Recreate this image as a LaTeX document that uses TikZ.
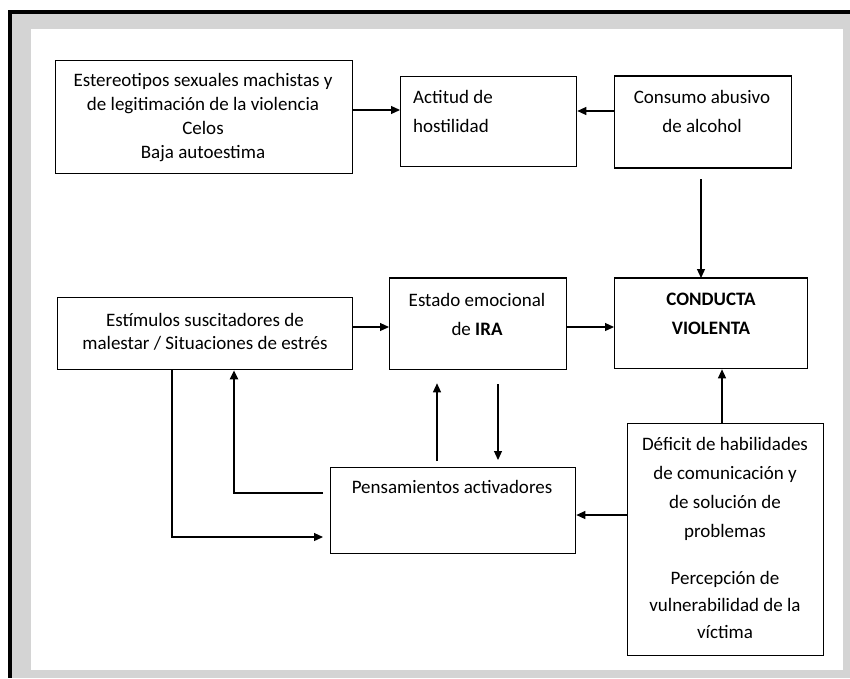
\documentclass[tikz,border=0pt]{standalone}
\usepackage{fontspec}
\setmainfont{Carlito}
\usetikzlibrary{arrows.meta}
\definecolor{framegray}{HTML}{D4D4D4}
\begin{document}
\begin{tikzpicture}[x=1pt,y=-1pt,
  box/.style={draw, line width=1.3pt, anchor=north west, inner sep=0pt},
  txt/.style={inner sep=0pt, anchor=base, font=\fontsize{19}{23}\selectfont},
  ltxt/.style={inner sep=0pt, anchor=base west, font=\fontsize{19}{23}\selectfont},
  arr/.style={line width=1.2pt, -{Triangle[length=9pt,width=8pt]}},
  thickedge/.style={line width=2.3pt}]
\useasboundingbox (0,0) rectangle (850,678);
% frame
\fill[black] (8,10) rectangle (850,678);
\fill[framegray] (12,14) rectangle (850,678);
\fill[white] (31,29) rectangle (843,670);

% boxes
\node[box, minimum width=297pt, minimum height=113pt] (est) at (55,60) {};
\node[box, minimum width=176pt, minimum height=90pt] (act) at (400,76) {};
\node[box, minimum width=177pt, minimum height=91pt] (con) at (614,76) {};
\node[box, minimum width=295pt, minimum height=72pt] (estim) at (57,297) {};
\node[box, minimum width=177pt, minimum height=91pt] (estado) at (389,278) {};
\node[box, minimum width=193pt, minimum height=90pt] (cond) at (614,278) {};
\node[box, minimum width=245pt, minimum height=86pt] (pens) at (330,467) {};
\node[box, minimum width=196pt, minimum height=232pt] (def) at (627,423) {};

\draw[thickedge] (con.north west) -- (con.north east);
\draw[thickedge] (con.south west) -- (con.south east);
\draw[thickedge] (estado.north west) -- (estado.north east);
\draw[thickedge] (cond.north west) -- (cond.north east);

% texts
\node[txt] (t1a) at (203,86) {Estereotipos sexuales machistas y};
\node[txt] (t1b) at (203,110) {de legitimación de la violencia};
\node[txt] (t1c) at (203,134) {Celos};
\node[txt] (t1d) at (203,158) {Baja autoestima};

\node[ltxt] (t2a) at (413,103) {Actitud de};
\node[ltxt] (t2b) at (413,132) {hostilidad};

\node[txt] (t3a) at (702,103) {Consumo abusivo};
\node[txt] (t3b) at (702,132) {de alcohol};

\node[txt] (t4a) at (205,326) {Estímulos suscitadores de};
\node[txt] (t4b) at (205,349) {malestar / Situaciones de estrés};

\node[txt] (t5a) at (477,306) {Estado emocional};
\node[txt] (t5b) at (477,335) {de \textbf{IRA}};

\node[txt] (t6a) at (711,305) {\textbf{CONDUCTA}};
\node[txt] (t6b) at (711,334) {\textbf{VIOLENTA}};

\node[txt] (t7) at (452,493) {Pensamientos activadores};

\node[txt] (t8a) at (725,450) {Déficit de habilidades};
\node[txt] (t8b) at (725,479) {de comunicación y};
\node[txt] (t8c) at (725,508) {de solución de};
\node[txt] (t8d) at (725,537) {problemas};
\node[txt] (t8e) at (725,584) {Percepción de};
\node[txt] (t8f) at (725,611) {vulnerabilidad de la};
\node[txt] (t8g) at (725,638) {víctima};

% connectors
\draw[arr] (est.east |- 0,110) -- (act.west |- 0,110);
\draw[arr] (con.west |- 0,111) -- (act.east |- 0,111);
\draw[arr, shorten <=11pt] (con.south -| 701,0) -- (cond.north -| 701,0);
\draw[arr] (estim.east |- 0,327) -- (estado.west |- 0,327);
\draw[arr] (estado.east |- 0,327) -- (cond.west |- 0,327);
\draw[arr] (def.north -| 722,0) -- (cond.south -| 722,0);
\draw[arr] (def.west |- 0,515) -- (pens.east |- 0,515);
\draw[arr, shorten >=7pt] (estim.south -| 172,0) |- (pens.west |- 0,537);
\draw[arr, line width=2pt, shorten <=7pt] (pens.west |- 0,493) -| (estim.south -| 234,0);
\draw[arr, shorten <=6pt, shorten >=13pt] (pens.north -| 437,0) -- (estado.south -| 437,0);
\draw[arr, shorten <=14pt, shorten >=7pt] (estado.south -| 498,0) -- (pens.north -| 498,0);
\end{tikzpicture}
\end{document}
